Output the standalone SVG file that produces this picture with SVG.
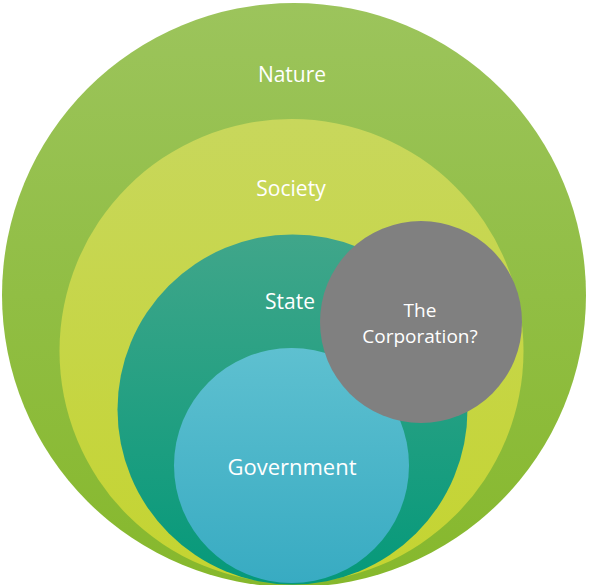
<svg xmlns="http://www.w3.org/2000/svg" width="590" height="585" viewBox="0 0 590 585">
<defs>
<linearGradient id="gNature" x1="0" y1="0" x2="0" y2="1"><stop offset="0" stop-color="#9cc45c"/><stop offset="1" stop-color="#86b82c"/></linearGradient>
<linearGradient id="gSociety" x1="0" y1="0" x2="0" y2="1"><stop offset="0" stop-color="#c8d75c"/><stop offset="1" stop-color="#c4d430"/></linearGradient>
<linearGradient id="gState" x1="0" y1="0" x2="0" y2="1"><stop offset="0" stop-color="#40a68a"/><stop offset="1" stop-color="#05997a"/></linearGradient>
<linearGradient id="gGov" x1="0" y1="0" x2="0" y2="1"><stop offset="0" stop-color="#5ec0d0"/><stop offset="1" stop-color="#38abc2"/></linearGradient>
<style>
text{font-family:"Open Sans","Liberation Sans",sans-serif;fill:#ffffff;text-anchor:middle}
</style>
</defs>
<g id="nature"><circle cx="294" cy="295" r="292" fill="url(#gNature)"/><text x="292" y="82" font-size="21">Nature</text></g>
<g id="society"><circle cx="291.5" cy="351" r="232" fill="url(#gSociety)"/><text x="291" y="196" font-size="21">Society</text></g>
<g id="state"><circle cx="292.5" cy="409.5" r="175" fill="url(#gState)"/><text x="290" y="309" font-size="21">State</text></g>
<g id="government"><circle cx="291.5" cy="465.5" r="117.5" fill="url(#gGov)"/><text x="292" y="475" font-size="22">Government</text></g>
<g id="corporation"><circle cx="421" cy="322" r="101" fill="#808080"/><text x="420" y="317" font-size="19">The</text><text x="420" y="343" font-size="19">Corporation?</text></g>
<g id="connectors"/>
</svg>
